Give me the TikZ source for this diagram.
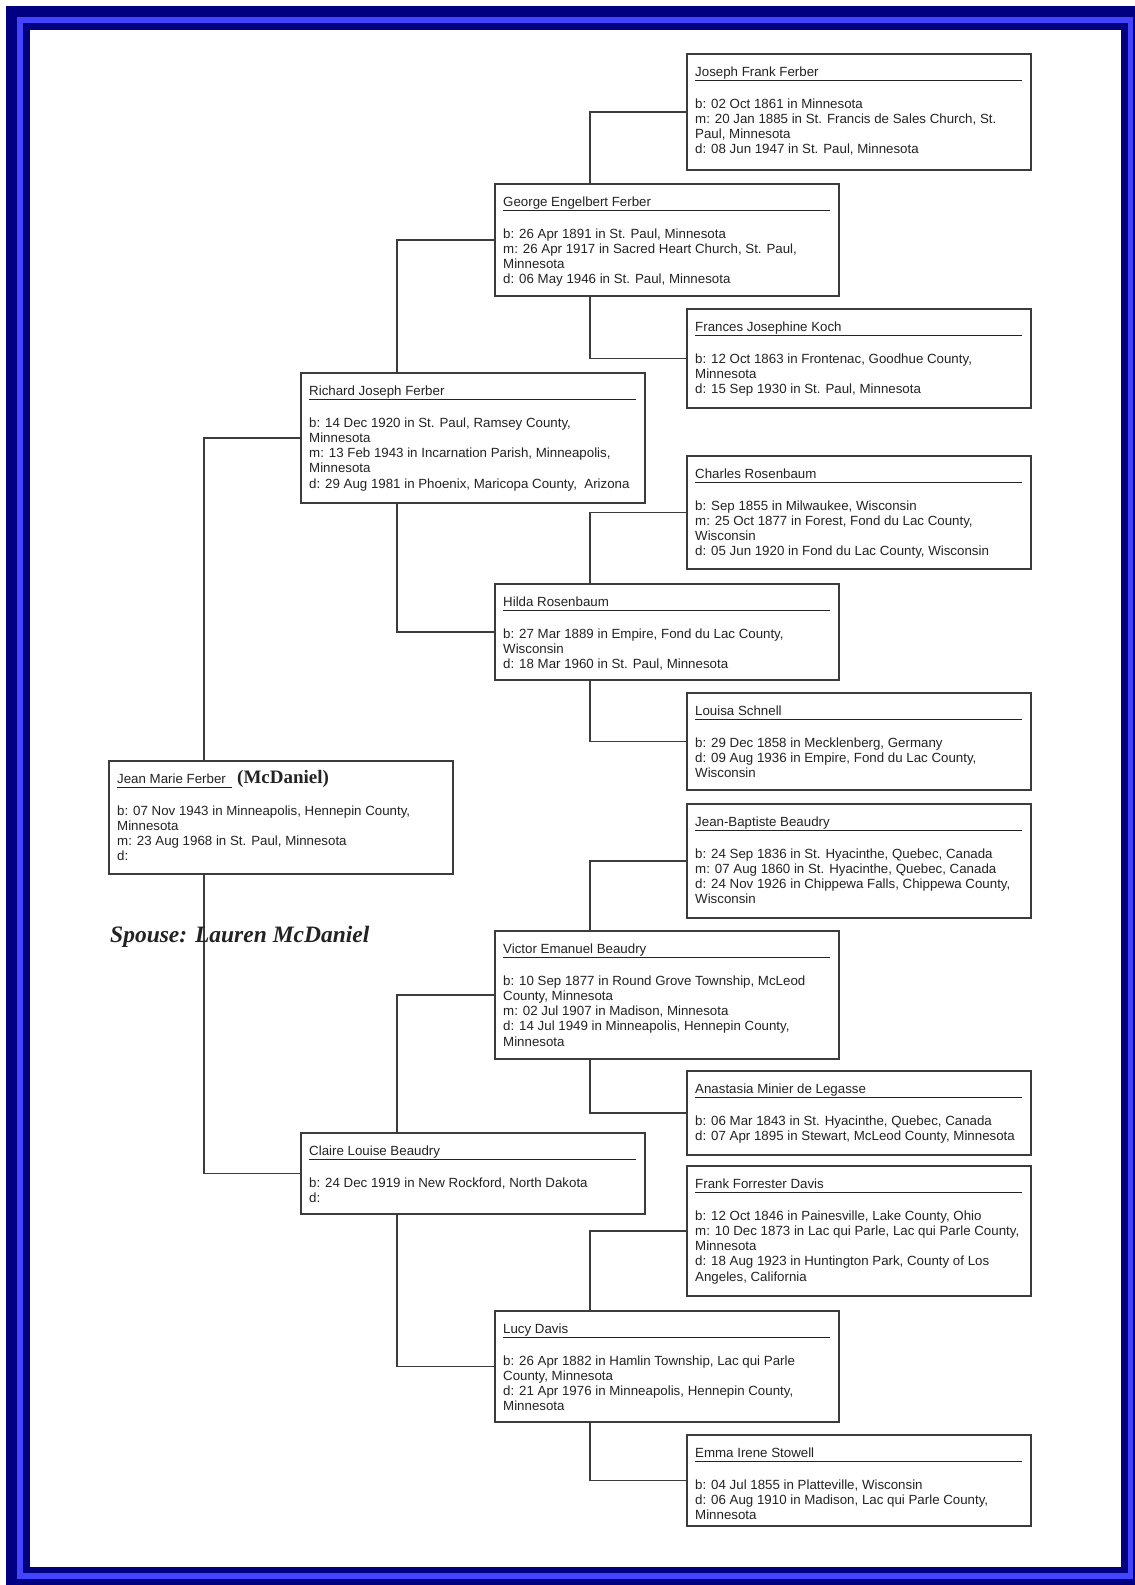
\documentclass[tikz,border=0pt]{standalone}
\usepackage{fontspec}
\setmainfont{Liberation Sans}
\newfontfamily\serifb{Liberation Serif}
\usetikzlibrary{calc}
\definecolor{navyf}{RGB}{0,0,128}
\definecolor{bluef}{RGB}{68,68,255}
\definecolor{boxline}{RGB}{60,60,60}
\definecolor{txt}{RGB}{35,35,35}
\tikzset{
  pbox/.style={draw=boxline, line width=1.8pt, anchor=north west, inner sep=0pt, minimum width=344pt},
  conn/.style={draw=boxline, line width=1.7pt},
  ulin/.style={draw=txt, line width=1.3pt},
  ptext/.style={anchor=base west, inner sep=0pt, text=txt, font=\fontsize{13.3}{15.3}\selectfont},
}
\newcommand\pname[2]{%
  \node[ptext] (#1-n) at ([xshift=9pt,yshift=-23.5pt]#1.north west) {#2};
  \draw[ulin] ([xshift=9pt,yshift=-27.5pt]#1.north west) -- ([xshift=-10pt,yshift=-27.5pt]#1.north east);
}
\newcommand\pbody[2]{%
  \foreach \t [count=\i] in {#2} {
    \node[ptext] (#1-\i) at ([xshift=9pt,yshift={-55pt-(\i-1)*15.3pt}]#1.north west) {\t};
  }
}
\newcommand\person[6]{% id, x, y, height, name, lines
  \node[pbox, minimum height=#4pt] (#1) at (#2,#3) {};
  \pname{#1}{#5}
  \pbody{#1}{#6}
}
\begin{document}
\begin{tikzpicture}[x=1pt,y=-1pt]
\useasboundingbox (0,0) rectangle (1135,1585);
% frame
\fill[white] (0,0) rectangle (1135,1585);
\fill[navyf] (6,6) rectangle (1135,1585);
\fill[bluef] (17,17) rectangle (1132.5,1579);
\fill[navyf] (22.5,22.5) rectangle (1127.5,1573);
\fill[white] (30,30) rectangle (1121,1567);

% persons
\person{joseph}{686}{53}{116}{Joseph Frank Ferber}{{b: 02 Oct 1861 in Minnesota},{m: 20 Jan 1885 in St. Francis de Sales Church, St.},{Paul, Minnesota},{d: 08 Jun 1947 in St. Paul, Minnesota}}
\person{george}{494}{183}{112}{George Engelbert Ferber}{{b: 26 Apr 1891 in St. Paul, Minnesota},{m: 26 Apr 1917 in Sacred Heart Church, St. Paul,},{Minnesota},{d: 06 May 1946 in St. Paul, Minnesota}}
\person{frances}{686}{308}{99}{Frances Josephine Koch}{{b: 12 Oct 1863 in Frontenac, Goodhue County,},{Minnesota},{d: 15 Sep 1930 in St. Paul, Minnesota}}
\person{richard}{300}{372}{130}{Richard Joseph Ferber}{{b: 14 Dec 1920 in St. Paul, Ramsey County,},{Minnesota},{m: 13 Feb 1943 in Incarnation Parish, Minneapolis,},{Minnesota},{d: 29 Aug 1981 in Phoenix, Maricopa County,\ \ Arizona}}
\person{charles}{686}{455}{113}{Charles Rosenbaum}{{b: Sep 1855 in Milwaukee, Wisconsin},{m: 25 Oct 1877 in Forest, Fond du Lac County,},{Wisconsin},{d: 05 Jun 1920 in Fond du Lac County, Wisconsin}}
\person{hilda}{494}{583}{96}{Hilda Rosenbaum}{{b: 27 Mar 1889 in Empire, Fond du Lac County,},{Wisconsin},{d: 18 Mar 1960 in St. Paul, Minnesota}}
\person{louisa}{686}{692}{97}{Louisa Schnell}{{b: 29 Dec 1858 in Mecklenberg, Germany},{d: 09 Aug 1936 in Empire, Fond du Lac County,},{Wisconsin}}
\person{jb}{686}{803}{114}{Jean-Baptiste Beaudry}{{b: 24 Sep 1836 in St. Hyacinthe, Quebec, Canada},{m: 07 Aug 1860 in St. Hyacinthe, Quebec, Canada},{d: 24 Nov 1926 in Chippewa Falls, Chippewa County,},{Wisconsin}}
\person{victor}{494}{930}{128}{Victor Emanuel Beaudry}{{b: 10 Sep 1877 in Round Grove Township, McLeod},{County, Minnesota},{m: 02 Jul 1907 in Madison, Minnesota},{d: 14 Jul 1949 in Minneapolis, Hennepin County,},{Minnesota}}
\person{anastasia}{686}{1070}{84}{Anastasia Minier de Legasse}{{b: 06 Mar 1843 in St. Hyacinthe, Quebec, Canada},{d: 07 Apr 1895 in Stewart, McLeod County, Minnesota}}
\person{claire}{300}{1132}{81}{Claire Louise Beaudry}{{b: 24 Dec 1919 in New Rockford, North Dakota},{d:}}
\person{frank}{686}{1165}{130}{Frank Forrester Davis}{{b: 12 Oct 1846 in Painesville, Lake County, Ohio},{m: 10 Dec 1873 in Lac qui Parle, Lac qui Parle County,},{Minnesota},{d: 18 Aug 1923 in Huntington Park, County of Los},{Angeles, California}}
\person{lucy}{494}{1310}{111}{Lucy Davis}{{b: 26 Apr 1882 in Hamlin Township, Lac qui Parle},{County, Minnesota},{d: 21 Apr 1976 in Minneapolis, Hennepin County,},{Minnesota}}
\person{emma}{686}{1434}{91}{Emma Irene Stowell}{{b: 04 Jul 1855 in Platteville, Wisconsin},{d: 06 Aug 1910 in Madison, Lac qui Parle County,},{Minnesota}}

% root person
\node[pbox, minimum height=113pt] (jean) at (108,760) {};
\node[ptext] (jean-n) at ([xshift=9pt,yshift=-23.5pt]jean.north west) {Jean Marie Ferber};
\draw[ulin] ([xshift=9pt,yshift=-27.5pt]jean.north west) -- ([xshift=124pt,yshift=-27.5pt]jean.north west);
\node[anchor=base west, inner sep=0pt, text=txt, font=\serifb\bfseries\fontsize{19}{22}\selectfont] (jean-mc) at ([xshift=129pt,yshift=-23.5pt]jean.north west) {(McDaniel)};
\pbody{jean}{{b: 07 Nov 1943 in Minneapolis, Hennepin County,},{Minnesota},{m: 23 Aug 1968 in St. Paul, Minnesota},{d:}}

% connectors
\draw[conn] ([xshift=96pt]george.north west) |- (joseph.west);
\draw[conn] ([xshift=96pt]george.south west) |- (frances.west);
\draw[conn] ([xshift=97pt]richard.north west) |- (george.west);
\draw[conn] ([xshift=97pt]richard.south west) |- (hilda.west);
\draw[conn] ([xshift=96pt]hilda.north west) |- (charles.west);
\draw[conn] ([xshift=96pt]hilda.south west) |- (louisa.west);
\draw[conn] ([xshift=96pt]jean.north west) |- (richard.west);
\draw[conn] ([xshift=96pt]jean.south west) |- (claire.west);
\draw[conn] ([xshift=96pt]victor.north west) |- (jb.west);
\draw[conn] ([xshift=96pt]victor.south west) |- (anastasia.west);
\draw[conn] ([xshift=97pt]claire.north west) |- (victor.west);
\draw[conn] ([xshift=97pt]claire.south west) |- (lucy.west);
\draw[conn] ([xshift=96pt]lucy.north west) |- (frank.west);
\draw[conn] ([xshift=96pt]lucy.south west) |- (emma.west);

% spouse
\node[anchor=base west, inner sep=0pt, text=txt, font=\serifb\bfseries\itshape\fontsize{23.5}{28}\selectfont] (spouse) at (110,942) {Spouse: Lauren McDaniel};
\end{tikzpicture}
\end{document}
